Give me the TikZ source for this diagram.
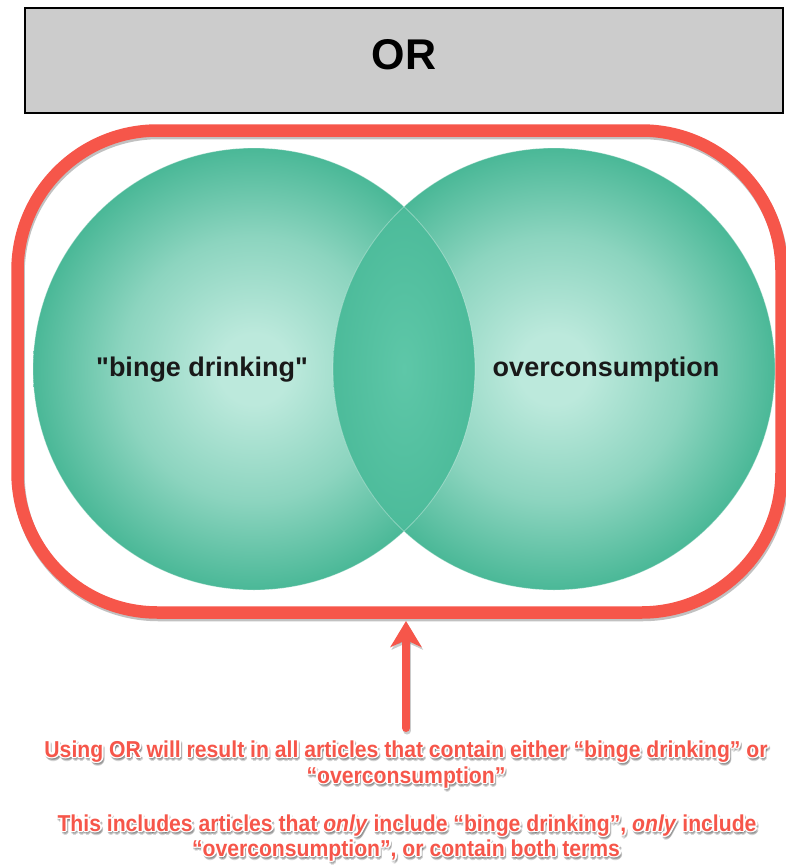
\documentclass[tikz,border=0pt]{standalone}
\usepackage{fontspec}
\setmainfont{Liberation Sans}
\newfontfamily\termfont[Ligatures=TeXOff]{Liberation Sans}
\newfontfamily\notefont[FakeStretch=0.92]{Liberation Sans}
\usetikzlibrary{arrows.meta,calc}

\definecolor{boxgray}{RGB}{204,204,204}
\definecolor{framered}{RGB}{246,86,74}
\definecolor{mintlight}{RGB}{188,233,220}
\definecolor{tealedge}{RGB}{74,184,151}
\definecolor{lensmid}{RGB}{94,199,168}
\definecolor{lensedge}{RGB}{76,187,154}
\definecolor{halogray}{RGB}{80,80,80}

% soft teal ball: light centre fading to the rim (25bp = path radius)
\pgfdeclareradialshading{mintball}{\pgfpoint{0bp}{0bp}}{%
  color(0bp)=(mintlight); color(4bp)=(mintlight);
  color(15bp)=(mintlight!58!tealedge);
  color(25bp)=(tealedge); color(50bp)=(tealedge)}
\pgfdeclareradialshading{lensfill}{\pgfpoint{0bp}{0bp}}{%
  color(0bp)=(lensmid); color(25bp)=(lensedge); color(50bp)=(lensedge)}

% red caption text with a white halo and a soft drop shadow
\newcommand\halonote[3]{%
  \foreach \a in {0,45,...,315}{%
    \node[notetext, text=halogray, opacity=.22] (#1-s\a) at ($(#2)+(\a:1.8)+(1.3,2.6)$) {#3};}
  \foreach \a in {0,30,...,330}{%
    \node[notetext, text=white] (#1-w\a) at ($(#2)+(\a:1.9)$) {#3};}
  \node[notetext, text=framered] (#1) at (#2) {#3};}

\begin{document}
\begin{tikzpicture}[x=1pt,y=-1pt,
  titlebox/.style={draw=black, line width=1.6pt, fill=boxgray},
  titletext/.style={font=\bfseries\fontsize{43}{50}\selectfont, anchor=base, inner sep=0pt},
  termtext/.style={font=\termfont\bfseries\fontsize{27}{32}\selectfont, anchor=base, inner sep=0pt, text=black!90},
  notetext/.style={font=\notefont\bfseries\fontsize{23}{26}\selectfont, anchor=base, inner sep=0pt},
  redframe/.style={draw=framered, line width=12.5pt, rounded corners=140pt},
  frameshadow/.style={draw=halogray, line width=12.5pt, rounded corners=140pt, opacity=.35},
  upArrow/.style={draw=framered, line width=8pt, line cap=round,
    -{Stealth[length=26pt, width=31pt, inset=7pt]}},
  arrowshadow/.style={draw=halogray, line width=8pt, line cap=round, opacity=.3,
    -{Stealth[length=26pt, width=31pt, inset=7pt]}}]

\useasboundingbox (0,0) rectangle (786,865);
\fill[white] (0,0) rectangle (786,865);

% heading bar
\draw[titlebox] (25,8) rectangle (783,113);
\node[titletext] (optitle) at (404,69.5) {OR};

% the two search-term circles
\path[shading=mintball] (254,369) circle (221pt);
\path[shading=mintball] (554,369) circle (221pt);
% overlap of both terms
\begin{scope}
  \clip (254,369) circle (221pt);
  \clip (554,369) circle (221pt);
  \path[shading=lensfill] (333,207) rectangle (475,531);
\end{scope}
\draw[white, opacity=.35, line width=0.8pt] (254,369) circle (221pt);
\draw[white, opacity=.35, line width=0.8pt] (554,369) circle (221pt);

\node[termtext] (binge) at (202,376.5) {"binge drinking"};
\node[termtext] (overc) at (606,376.5) {overconsumption};

% red outline around the union
\path[frameshadow] (18.5,133) rectangle (782.5,615);
\path[redframe] (17.5,130.5) rectangle (781.5,612.5);
\coordinate (frameBottom) at (406,621);
\coordinate (arrowFoot) at (406,728);
\coordinate (shadowTip) at (407.3,623.5);
\coordinate (shadowFoot) at (407.3,730.5);
\draw[arrowshadow] (shadowFoot) -- (shadowTip);
\draw[upArrow] (arrowFoot) -- (frameBottom);

% explanation
\halonote{noteA}{406,757}{Using OR will result in all articles that contain either “binge drinking” or}
\halonote{noteB}{406,783}{“overconsumption”}
\halonote{noteC}{407,831}{This includes articles that \textit{only} include “binge drinking”, \textit{only} include}
\halonote{noteD}{406,856}{“overconsumption”, or contain both terms}

\end{tikzpicture}
\end{document}
